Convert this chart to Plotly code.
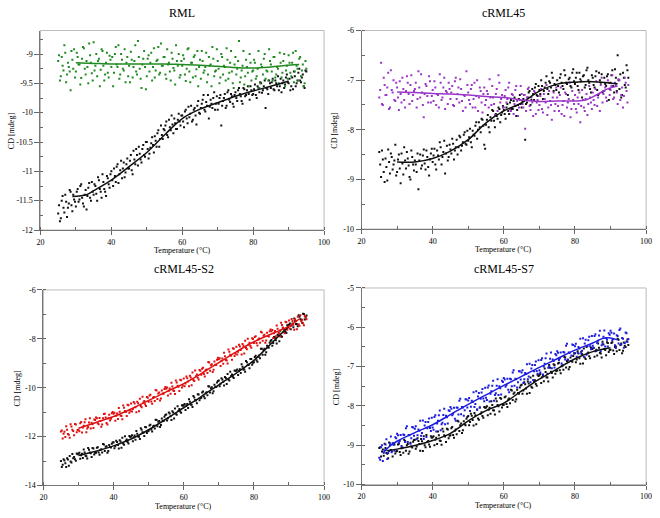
import numpy as np
import plotly.graph_objects as go

# measurement grids (two interleaved sweeps, every 0.5 degC)
temperature = np.arange(25, 95.01, 0.5)
temperature_b = np.arange(25.25, 95, 0.5)

# ---- RML ----
rml_mut = [-9.12, -9.45, -9.05, -9.28, -8.98, -9.35, -9.22, -9.62, -9.10, -8.92,
           -9.30, -9.05, -9.18, -9.41, -8.88, -9.25, -9.12, -9.50, -9.02, -9.33,
           -8.80, -9.20, -9.38, -9.08, -9.27, -8.95, -9.45, -9.15, -9.32, -9.03,
           -9.22, -9.55, -9.00, -9.18, -8.85, -9.35, -9.10, -9.28, -9.48, -9.05,
           -9.20, -8.96, -9.40, -9.12, -9.30, -8.78, -9.25, -9.58, -9.08, -9.22,
           -9.38, -9.02, -9.15, -9.45, -8.90, -9.28, -9.10, -9.35, -8.82, -9.20,
           -9.05, -9.42, -9.18, -9.30, -8.98, -9.24, -9.52, -9.12, -9.00, -9.36,
           -9.20, -9.08, -9.46, -8.92, -9.30, -9.15, -9.40, -9.02, -9.26, -9.55,
           -9.10, -8.95, -9.32, -9.22, -9.48, -9.05, -9.18, -8.88, -9.38, -9.28,
           -9.12, -9.50, -9.00, -9.35, -9.22, -8.90, -9.42, -9.15, -9.30, -9.58,
           -9.05, -9.25, -8.78, -9.40, -9.20, -9.52, -9.10, -9.32, -9.00, -9.45,
           -9.28, -9.15, -9.38, -8.95, -9.50, -9.22, -9.08, -9.42, -9.30, -8.92,
           -9.18, -9.45, -9.05, -9.35, -9.25, -8.98, -9.40, -9.12, -9.55, -9.20,
           -9.02, -9.32, -9.15, -9.48, -8.95, -9.25, -9.08, -9.38, -9.18, -9.50,
           -9.25]
rml_mut_b = [-9.02, -9.38, -9.20, -8.85, -9.48, -9.15, -9.30, -8.95, -9.25, -9.40,
             -8.98, -9.18, -9.52, -9.08, -8.90, -9.35, -9.22, -8.82, -9.15, -9.45,
             -9.28, -9.00, -9.12, -9.55, -8.92, -9.20, -9.35, -8.98, -9.40, -9.10,
             -9.05, -9.32, -8.88, -9.22, -9.42, -9.00, -9.25, -8.92, -9.15, -9.38,
             -9.48, -9.10, -9.22, -8.85, -9.35, -9.05, -9.42, -9.18, -8.95, -9.60,
             -9.08, -9.30, -8.98, -9.22, -9.40, -9.12, -8.88, -9.32, -9.20, -9.05,
             -9.35, -8.92, -9.15, -9.45, -9.08, -9.28, -8.85, -9.20, -9.40, -9.12,
             -9.02, -9.35, -9.25, -8.90, -9.48, -9.15, -9.05, -9.38, -8.95, -9.22,
             -9.42, -9.12, -9.28, -8.98, -9.35, -9.20, -9.55, -9.08, -9.30, -8.92,
             -9.25, -9.40, -9.05, -9.20, -9.45, -9.10, -9.32, -8.95, -9.50, -9.18,
             -9.35, -9.12, -9.48, -9.28, -8.95, -9.38, -9.22, -9.55, -9.15, -9.30,
             -9.10, -9.42, -9.25, -9.58, -9.18, -9.35, -9.00, -9.28, -9.45, -9.12,
             -9.30, -9.05, -9.40, -9.22, -9.50, -9.15, -9.32, -9.00, -9.28, -9.42,
             -9.15, -9.38, -8.98, -9.30, -9.20, -9.45, -9.05, -9.28, -9.55, -9.12]
rml_wt = [-11.72, -11.85, -11.50, -11.62, -11.40, -11.78, -11.55, -11.35, -11.68, -11.48,
          -11.60, -11.30, -11.48, -11.22, -11.55, -11.40, -11.65, -11.28, -11.45, -11.18,
          -11.40, -11.25, -11.50, -11.15, -11.35, -11.05, -11.30, -11.42, -11.12, -11.28,
          -11.00, -11.25, -11.08, -10.92, -11.20, -10.98, -11.12, -10.85, -11.02, -10.78,
          -10.95, -10.72, -11.05, -10.80, -10.62, -10.90, -10.70, -10.85, -10.55, -10.75,
          -10.50, -10.78, -10.60, -10.42, -10.68, -10.48, -10.35, -10.58, -10.22, -10.45,
          -10.30, -10.15, -10.42, -10.25, -10.05, -10.35, -10.18, -10.28, -10.02, -10.22,
          -10.05, -10.25, -9.95, -10.18, -10.08, -9.88, -10.12, -9.92, -10.20, -9.80,
          -10.02, -9.85, -9.70, -9.98, -9.88, -10.10, -9.78, -9.92, -9.65, -9.85,
          -9.95, -9.75, -10.22, -9.80, -9.68, -9.88, -9.62, -9.82, -9.72, -9.90,
          -9.65, -9.80, -9.58, -9.72, -9.85, -9.60, -9.70, -9.55, -9.78, -9.62,
          -9.68, -9.52, -9.75, -9.58, -9.48, -9.66, -9.55, -9.92, -9.60, -9.45,
          -9.58, -9.42, -9.62, -9.50, -9.38, -9.55, -9.65, -9.45, -9.52, -9.35,
          -9.50, -9.62, -9.40, -9.30, -9.55, -9.45, -9.25, -9.48, -9.35, -9.58,
          -9.30]
rml_wt_b = [-11.58, -11.80, -11.42, -11.70, -11.52, -11.62, -11.32, -11.58, -11.40, -11.52,
            -11.35, -11.52, -11.25, -11.45, -11.60, -11.32, -11.42, -11.20, -11.50, -11.35,
            -11.22, -11.38, -11.10, -11.30, -11.45, -11.18, -11.35, -11.08, -11.22, -11.05,
            -11.15, -10.95, -11.18, -10.88, -11.05, -10.82, -10.95, -11.10, -10.88, -10.95,
            -10.82, -10.98, -10.65, -10.88, -10.72, -10.58, -10.80, -10.62, -10.72, -10.50,
            -10.62, -10.70, -10.52, -10.55, -10.40, -10.58, -10.30, -10.45, -10.38, -10.28,
            -10.22, -10.38, -10.12, -10.30, -10.20, -10.10, -10.28, -10.12, -10.15, -10.05,
            -10.15, -9.98, -10.10, -9.90, -10.02, -10.15, -9.95, -10.05, -9.88, -10.00,
            -9.92, -9.78, -9.95, -9.82, -9.70, -9.90, -9.85, -9.75, -9.95, -9.72,
            -9.85, -9.70, -9.88, -9.75, -9.92, -9.65, -9.78, -9.68, -9.85, -9.70,
            -9.75, -9.62, -9.68, -9.80, -9.58, -9.72, -9.62, -9.68, -9.55, -9.70,
            -9.60, -9.70, -9.55, -9.65, -9.50, -9.62, -9.45, -9.58, -9.68, -9.50,
            -9.48, -9.60, -9.45, -9.55, -9.62, -9.42, -9.50, -9.58, -9.40, -9.48,
            -9.42, -9.55, -9.60, -9.38, -9.50, -9.32, -9.45, -9.40, -9.55, -9.28]
rml_mut_fit_t = [30, 35, 40, 45, 50, 55, 60, 65, 70, 75, 80, 85, 90, 93]
rml_mut_fit = [-9.15, -9.16, -9.17, -9.17, -9.17, -9.17, -9.18, -9.19, -9.21, -9.23, -9.24, -9.22, -9.19, -9.18]
rml_wt_fit_t = [29, 31, 33, 35, 40, 45, 50, 55, 60, 65, 70, 75, 80, 85, 90]
rml_wt_fit = [-11.43, -11.42, -11.40, -11.33, -11.15, -10.92, -10.68, -10.38, -10.10, -9.94, -9.83, -9.72, -9.63, -9.55, -9.46]

# ---- cRML45 ----
c45_mut = [-7.35, -6.65, -7.50, -7.10, -7.30, -6.85, -7.55, -7.20, -7.00, -7.42,
           -7.15, -7.60, -7.28, -6.95, -7.40, -7.22, -7.05, -7.48, -6.90, -7.30,
           -7.18, -7.55, -6.82, -7.35, -7.25, -7.75, -7.08, -7.32, -6.92, -7.45,
           -7.20, -7.02, -7.50, -7.30, -6.88, -7.40, -7.15, -7.58, -7.25, -7.05,
           -7.38, -7.12, -7.52, -6.95, -7.28, -7.45, -7.18, -7.62, -7.32, -6.82,
           -7.25, -7.48, -7.10, -7.38, -7.55, -7.00, -7.35, -7.22, -7.65, -7.15,
           -7.40, -7.28, -6.98, -7.50, -7.35, -7.70, -7.18, -6.90, -7.45, -7.30,
           -7.55, -7.20, -7.38, -7.05, -7.62, -7.30, -7.48, -7.12, -7.72, -7.40,
           -7.28, -7.55, -7.98, -7.35, -7.15, -7.60, -7.45, -7.22, -7.68, -7.40,
           -7.50, -7.18, -7.65, -7.38, -7.10, -7.55, -7.42, -7.80, -7.25, -7.48,
           -7.35, -7.62, -7.15, -7.50, -7.72, -7.28, -7.45, -7.05, -7.58, -7.40,
           -7.30, -7.65, -7.48, -7.85, -7.20, -7.55, -7.38, -7.70, -7.12, -7.45,
           -7.25, -7.50, -7.02, -7.35, -7.62, -6.95, -7.28, -7.15, -7.42, -7.05,
           -7.20, -6.90, -7.35, -7.10, -7.48, -7.00, -7.30, -7.55, -6.95, -7.22,
           -7.10]
c45_mut_b = [-7.20, -7.48, -6.95, -7.30, -7.15, -7.58, -6.80, -7.25, -7.40, -7.05,
             -7.35, -7.02, -7.45, -7.18, -7.55, -6.92, -7.28, -7.10, -7.42, -7.22,
             -7.05, -7.38, -7.15, -6.88, -7.50, -7.28, -7.12, -7.45, -7.02, -7.32,
             -7.42, -7.15, -7.28, -7.55, -7.05, -7.35, -6.95, -7.22, -7.48, -7.18,
             -7.25, -7.50, -7.02, -7.38, -7.15, -6.98, -7.42, -7.30, -7.55, -7.10,
             -7.40, -7.18, -7.55, -7.05, -7.32, -7.62, -7.15, -7.45, -7.28, -7.50,
             -7.22, -7.55, -7.35, -7.12, -7.48, -7.28, -7.62, -7.05, -7.38, -7.55,
             -7.32, -7.45, -7.15, -7.58, -7.28, -7.68, -7.20, -7.42, -7.55, -7.12,
             -7.48, -7.30, -7.62, -7.18, -7.52, -7.35, -7.72, -7.25, -7.45, -7.60,
             -7.32, -7.58, -7.28, -7.45, -7.70, -7.22, -7.50, -7.35, -7.62, -7.15,
             -7.52, -7.30, -7.68, -7.42, -7.25, -7.55, -7.38, -7.75, -7.22, -7.48,
             -7.58, -7.35, -7.25, -7.52, -7.40, -7.62, -7.28, -7.48, -7.35, -7.58,
             -7.40, -7.18, -7.52, -7.28, -7.10, -7.45, -7.22, -7.35, -7.00, -7.30,
             -7.12, -7.38, -7.05, -7.25, -6.98, -7.40, -7.15, -7.32, -7.05, -7.45]
c45_wt = [-8.45, -8.95, -8.60, -9.05, -8.75, -8.40, -8.88, -8.55, -8.70, -8.30,
          -8.85, -8.50, -9.08, -8.68, -8.35, -8.78, -8.58, -8.95, -8.42, -8.70,
          -8.62, -8.85, -9.20, -8.50, -8.72, -8.40, -8.80, -8.55, -8.92, -8.48,
          -8.65, -8.38, -8.80, -8.52, -8.25, -8.70, -8.45, -8.88, -8.32, -8.55,
          -8.40, -8.18, -8.60, -8.35, -8.50, -8.12, -8.42, -8.25, -8.05, -8.30,
          -8.22, -7.98, -8.35, -8.10, -7.92, -8.18, -7.85, -8.05, -7.80, -8.30,
          -7.90, -7.70, -8.05, -7.82, -7.62, -7.95, -7.72, -7.55, -7.85, -7.65,
          -7.60, -7.78, -7.48, -7.68, -7.40, -7.58, -7.35, -7.72, -7.50, -7.30,
          -7.55, -7.38, -8.20, -7.45, -7.25, -7.50, -7.18, -7.40, -7.08, -7.32,
          -7.20, -7.00, -7.38, -7.15, -6.92, -7.28, -7.05, -6.85, -7.22, -7.10,
          -7.00, -7.25, -6.88, -7.12, -6.80, -7.05, -7.30, -6.95, -7.15, -6.78,
          -7.08, -6.85, -7.20, -6.98, -7.35, -6.90, -7.10, -6.75, -7.05, -7.25,
          -6.95, -7.15, -6.82, -7.30, -7.00, -6.88, -7.22, -7.08, -6.92, -7.40,
          -7.05, -6.80, -7.25, -6.95, -6.50, -7.18, -7.35, -6.85, -7.10, -6.70,
          -6.95]
c45_wt_b = [-8.70, -8.42, -8.85, -8.58, -9.02, -8.65, -8.48, -8.80, -8.62, -8.92,
            -8.60, -8.78, -8.48, -8.90, -8.62, -8.45, -8.72, -9.00, -8.55, -8.82,
            -8.70, -8.48, -8.62, -8.78, -8.52, -8.68, -8.42, -8.75, -8.60, -8.38,
            -8.52, -8.70, -8.42, -8.60, -8.35, -8.55, -8.22, -8.48, -8.62, -8.30,
            -8.48, -8.28, -8.42, -8.20, -8.35, -8.15, -8.32, -8.10, -8.28, -8.02,
            -8.15, -8.25, -8.02, -8.12, -7.85, -8.00, -7.95, -7.78, -7.92, -8.38,
            -7.80, -7.95, -7.75, -7.60, -7.82, -7.68, -7.78, -7.58, -7.70, -7.52,
            -7.68, -7.55, -7.62, -7.45, -7.58, -7.42, -7.52, -7.60, -7.38, -7.48,
            -7.42, -7.30, -7.48, -7.35, -7.22, -7.40, -7.28, -7.15, -7.30, -7.12,
            -7.28, -7.12, -7.22, -7.05, -7.18, -7.02, -7.15, -6.95, -7.08, -7.20,
            -7.12, -6.95, -7.05, -7.18, -6.90, -7.08, -6.98, -7.12, -6.85, -7.02,
            -6.95, -7.12, -6.85, -7.02, -6.92, -7.15, -6.80, -7.00, -7.18, -6.90,
            -7.10, -6.92, -7.20, -6.85, -7.05, -7.25, -6.95, -7.12, -6.88, -7.18,
            -6.90, -7.12, -6.78, -7.22, -7.00, -6.88, -7.30, -6.95, -7.15, -6.80]
c45_mut_fit_t = [30, 35, 40, 45, 50, 55, 60, 65, 70, 75, 80, 83, 86, 89, 92]
c45_mut_fit = [-7.24, -7.25, -7.27, -7.28, -7.30, -7.33, -7.35, -7.40, -7.43, -7.42, -7.42, -7.40, -7.30, -7.18, -7.12]
c45_wt_fit_t = [30, 35, 40, 45, 50, 55, 60, 65, 70, 75, 80, 85, 90, 92]
c45_wt_fit = [-8.65, -8.65, -8.58, -8.43, -8.20, -7.86, -7.62, -7.46, -7.22, -7.08, -7.04, -7.03, -7.06, -7.07]

# ---- cRML45-S2 ----
s2_mut = [-11.79, -12.08, -11.80, -11.58, -11.89, -12.05, -11.59, -11.77, -11.48, -11.82,
          -11.72, -11.45, -11.83, -11.56, -11.29, -11.67, -11.42, -11.67, -11.49, -11.30,
          -11.22, -11.45, -11.24, -11.60, -11.25, -11.07, -11.44, -11.25, -11.34, -11.04,
          -11.07, -11.35, -11.06, -10.83, -11.14, -11.29, -10.82, -10.99, -10.70, -11.02,
          -10.65, -10.87, -10.65, -11.00, -10.64, -10.45, -10.80, -10.61, -10.68, -10.38,
          -10.57, -10.29, -10.66, -10.38, -10.09, -10.46, -10.20, -10.44, -10.24, -10.05,
          -10.04, -10.32, -10.03, -9.80, -10.11, -10.26, -9.79, -9.96, -9.67, -9.99,
          -9.62, -9.83, -9.61, -9.94, -9.58, -9.38, -9.73, -9.53, -9.59, -9.28,
          -9.47, -9.18, -9.54, -9.25, -8.95, -9.31, -9.04, -9.27, -9.06, -8.86,
          -8.84, -9.11, -8.81, -8.57, -8.87, -9.01, -8.53, -8.69, -8.39, -8.70,
          -8.32, -8.53, -8.31, -8.64, -8.28, -8.08, -8.43, -8.23, -8.29, -7.98,
          -8.17, -7.89, -8.27, -7.99, -7.71, -8.08, -7.83, -8.07, -7.88, -7.69,
          -7.69, -7.97, -7.68, -7.45, -7.75, -7.90, -7.43, -7.60, -7.30, -7.63,
          -7.25, -7.48, -7.27, -7.63, -7.28, -7.10, -7.46, -7.28, -7.36, -7.07,
          -7.20]
s2_mut_b = [-11.75, -11.88, -12.02, -11.72, -11.92, -11.49, -11.72, -11.94, -11.51, -11.73,
            -11.78, -11.40, -11.63, -11.41, -11.82, -11.61, -11.25, -11.43, -11.65, -11.32,
            -11.25, -11.49, -11.36, -11.50, -11.08, -11.22, -11.51, -11.11, -11.27, -10.99,
            -11.02, -11.15, -11.28, -10.98, -11.16, -10.73, -10.95, -11.16, -10.72, -10.94,
            -10.97, -10.58, -10.80, -10.57, -10.96, -10.75, -10.37, -10.54, -10.75, -10.41,
            -10.32, -10.56, -10.41, -10.54, -10.11, -10.24, -10.52, -10.11, -10.25, -9.97,
            -9.99, -10.12, -10.25, -9.95, -10.13, -9.70, -9.92, -10.13, -9.69, -9.91,
            -9.94, -9.54, -9.75, -9.51, -9.90, -9.68, -9.30, -9.46, -9.66, -9.31,
            -9.22, -9.44, -9.29, -9.40, -8.97, -9.08, -9.36, -8.93, -9.07, -8.77,
            -8.79, -8.91, -9.02, -8.71, -8.89, -8.44, -8.65, -8.86, -8.41, -8.61,
            -8.64, -8.24, -8.46, -8.21, -8.60, -8.38, -8.00, -8.16, -8.36, -8.01,
            -7.93, -8.17, -8.03, -8.16, -7.74, -7.87, -8.16, -7.75, -7.90, -7.62,
            -7.64, -7.77, -7.89, -7.59, -7.77, -7.34, -7.55, -7.77, -7.32, -7.54,
            -7.58, -7.19, -7.42, -7.20, -7.61, -7.40, -7.04, -7.22, -7.44, -7.10]
s2_wt = [-13.00, -13.15, -12.98, -13.24, -12.94, -12.79, -13.06, -12.89, -12.93, -12.69,
         -12.70, -12.91, -12.70, -12.53, -12.78, -12.90, -12.54, -12.68, -12.47, -12.73,
         -12.66, -12.44, -12.74, -12.52, -12.30, -12.59, -12.40, -12.59, -12.43, -12.29,
         -12.23, -12.39, -12.22, -12.49, -12.20, -12.05, -12.33, -12.17, -12.22, -11.98,
         -12.00, -12.19, -11.96, -11.77, -12.00, -12.10, -11.72, -11.84, -11.61, -11.85,
         -11.76, -11.52, -11.79, -11.56, -11.31, -11.58, -11.36, -11.53, -11.35, -11.19,
         -11.10, -11.25, -11.06, -11.32, -11.01, -10.85, -11.11, -10.94, -10.97, -10.72,
         -10.72, -10.91, -10.67, -10.47, -10.69, -10.79, -10.40, -10.52, -10.27, -10.51,
         -10.41, -10.16, -10.43, -10.19, -9.94, -10.20, -9.98, -10.14, -9.96, -9.79,
         -9.70, -9.84, -9.66, -9.91, -9.60, -9.44, -9.70, -9.52, -9.55, -9.30,
         -9.30, -9.48, -9.24, -9.04, -9.26, -9.35, -8.96, -9.07, -8.83, -9.06,
         -8.96, -8.69, -8.94, -8.68, -8.41, -8.65, -8.41, -8.55, -8.35, -8.16,
         -8.05, -8.17, -7.96, -8.19, -7.86, -7.67, -7.91, -7.71, -7.72, -7.44,
         -7.42, -7.61, -7.37, -7.17, -7.39, -7.49, -7.10, -7.22, -6.97, -7.21,
         -7.05]
s2_wt_b = [-13.24, -12.93, -13.09, -12.89, -13.19, -13.02, -12.71, -12.83, -12.99, -12.72,
           -12.66, -12.76, -12.88, -12.65, -12.80, -12.47, -12.65, -12.83, -12.49, -12.67,
           -12.46, -12.65, -12.55, -12.65, -12.32, -12.42, -12.66, -12.34, -12.45, -12.24,
           -12.48, -12.17, -12.34, -12.15, -12.46, -12.29, -11.99, -12.12, -12.28, -12.02,
           -11.95, -12.03, -12.13, -11.88, -12.01, -11.66, -11.82, -11.98, -11.62, -11.78,
           -11.55, -11.71, -11.59, -11.67, -11.32, -11.39, -11.61, -11.26, -11.36, -11.12,
           -11.34, -11.01, -11.17, -10.96, -11.26, -11.07, -10.76, -10.87, -11.02, -10.74,
           -10.67, -10.74, -10.83, -10.57, -10.70, -10.34, -10.50, -10.64, -10.28, -10.43,
           -10.20, -10.36, -10.23, -10.31, -9.95, -10.02, -10.23, -9.88, -9.97, -9.73,
           -9.94, -9.61, -9.76, -9.56, -9.85, -9.66, -9.35, -9.46, -9.60, -9.32,
           -9.25, -9.32, -9.40, -9.14, -9.26, -8.91, -9.06, -9.20, -8.83, -8.98,
           -8.74, -8.88, -8.73, -8.79, -8.41, -8.46, -8.65, -8.28, -8.35, -8.09,
           -8.28, -7.93, -8.06, -7.83, -8.10, -7.89, -7.55, -7.64, -7.76, -7.46,
           -7.37, -7.44, -7.53, -7.27, -7.40, -7.04, -7.20, -7.34, -6.98, -7.13]
s2_mut_fit_t = [30, 35, 40, 45, 50, 55, 60, 65, 70, 75, 80, 85, 90, 93]
s2_mut_fit = [-11.66, -11.42, -11.18, -10.87, -10.52, -10.17, -9.83, -9.42, -8.97, -8.53, -8.12, -7.80, -7.48, -7.18]
s2_wt_fit_t = [30, 35, 40, 45, 50, 55, 60, 65, 70, 75, 80, 85, 90]
s2_wt_fit = [-12.77, -12.60, -12.38, -12.10, -11.72, -11.28, -10.82, -10.36, -9.88, -9.40, -8.88, -8.18, -7.48]

# ---- cRML45-S7 ----
s7_mut = [-9.32, -9.05, -9.40, -9.13, -8.85, -9.20, -8.95, -9.18, -8.99, -8.80,
          -8.71, -8.93, -8.74, -9.07, -8.74, -8.57, -8.92, -8.75, -8.82, -8.55,
          -8.58, -8.85, -8.60, -8.38, -8.69, -8.84, -8.41, -8.57, -8.32, -8.64,
          -8.55, -8.28, -8.65, -8.38, -8.12, -8.47, -8.23, -8.47, -8.29, -8.11,
          -8.03, -8.24, -8.05, -8.38, -8.05, -7.87, -8.21, -8.04, -8.11, -7.84,
          -7.86, -8.13, -7.87, -7.65, -7.95, -8.10, -7.67, -7.82, -7.57, -7.88,
          -7.79, -7.53, -7.89, -7.63, -7.36, -7.72, -7.49, -7.72, -7.55, -7.36,
          -7.29, -7.51, -7.31, -7.65, -7.32, -7.15, -7.49, -7.32, -7.40, -7.12,
          -7.15, -7.42, -7.16, -6.94, -7.25, -7.40, -6.96, -7.12, -6.87, -7.18,
          -7.09, -6.83, -7.20, -6.93, -6.67, -7.03, -6.80, -7.04, -6.86, -6.68,
          -6.61, -6.83, -6.64, -6.97, -6.64, -6.47, -6.82, -6.65, -6.72, -6.45,
          -6.48, -6.75, -6.50, -6.29, -6.60, -6.75, -6.32, -6.48, -6.24, -6.56,
          -6.47, -6.22, -6.60, -6.34, -6.09, -6.46, -6.24, -6.49, -6.32, -6.15,
          -6.09, -6.33, -6.16, -6.53, -6.22, -6.07, -6.44, -6.29, -6.40, -6.15,
          -6.30]
s7_mut_b = [-9.37, -9.00, -9.19, -8.98, -9.35, -9.15, -8.78, -8.95, -9.14, -8.82,
            -8.75, -8.89, -9.02, -8.73, -8.92, -8.52, -8.74, -8.96, -8.54, -8.76,
            -8.52, -8.75, -8.63, -8.76, -8.37, -8.50, -8.79, -8.41, -8.56, -8.30,
            -8.61, -8.24, -8.45, -8.24, -8.62, -8.43, -8.07, -8.25, -8.45, -8.13,
            -8.07, -8.20, -8.33, -8.04, -8.22, -7.82, -8.03, -8.25, -7.83, -8.04,
            -7.80, -8.02, -7.90, -8.03, -7.63, -7.76, -8.04, -7.66, -7.81, -7.54,
            -7.85, -7.48, -7.69, -7.49, -7.87, -7.68, -7.32, -7.50, -7.71, -7.39,
            -7.33, -7.47, -7.59, -7.31, -7.50, -7.09, -7.31, -7.53, -7.12, -7.33,
            -7.09, -7.32, -7.19, -7.32, -6.93, -7.05, -7.34, -6.96, -7.11, -6.84,
            -7.15, -6.79, -7.00, -6.79, -7.18, -6.99, -6.64, -6.82, -7.02, -6.71,
            -6.65, -6.79, -6.92, -6.63, -6.82, -6.42, -6.64, -6.86, -6.44, -6.66,
            -6.42, -6.65, -6.54, -6.67, -6.28, -6.41, -6.70, -6.33, -6.48, -6.22,
            -6.53, -6.18, -6.40, -6.21, -6.61, -6.42, -6.08, -6.27, -6.49, -6.19,
            -6.14, -6.30, -6.46, -6.20, -6.41, -6.03, -6.27, -6.52, -6.13, -6.37]
s7_wt = [-9.07, -9.29, -9.11, -8.96, -9.20, -9.33, -9.00, -9.15, -8.95, -9.21,
         -9.15, -8.96, -9.25, -9.06, -8.86, -9.14, -8.97, -9.16, -9.03, -8.91,
         -8.86, -9.03, -8.89, -9.14, -8.90, -8.77, -9.05, -8.92, -8.98, -8.77,
         -8.80, -9.00, -8.81, -8.65, -8.88, -8.99, -8.65, -8.78, -8.58, -8.82,
         -8.75, -8.54, -8.81, -8.60, -8.38, -8.64, -8.45, -8.62, -8.47, -8.33,
         -8.26, -8.41, -8.25, -8.50, -8.24, -8.09, -8.35, -8.20, -8.26, -8.03,
         -8.04, -8.24, -8.05, -7.88, -8.11, -8.22, -7.88, -8.01, -7.80, -8.04,
         -7.97, -7.76, -8.03, -7.81, -7.59, -7.85, -7.66, -7.83, -7.67, -7.53,
         -7.46, -7.61, -7.45, -7.69, -7.43, -7.28, -7.54, -7.39, -7.44, -7.21,
         -7.22, -7.42, -7.22, -7.05, -7.27, -7.38, -7.03, -7.16, -6.94, -7.18,
         -7.10, -6.90, -7.17, -6.97, -6.75, -7.02, -6.83, -7.01, -6.86, -6.73,
         -6.66, -6.82, -6.67, -6.93, -6.68, -6.54, -6.81, -6.67, -6.74, -6.52,
         -6.54, -6.75, -6.57, -6.41, -6.65, -6.77, -6.44, -6.58, -6.38, -6.63,
         -6.57, -6.38, -6.68, -6.49, -6.29, -6.58, -6.41, -6.60, -6.47, -6.36,
         -6.45]
s7_wt_b = [-9.05, -9.16, -9.27, -9.07, -9.22, -8.93, -9.12, -9.29, -8.98, -9.16,
           -8.98, -9.17, -9.08, -9.19, -8.89, -9.00, -9.22, -8.94, -9.06, -8.87,
           -9.09, -8.82, -8.97, -8.84, -9.15, -9.00, -8.74, -8.89, -9.04, -8.81,
           -8.77, -8.86, -8.97, -8.75, -8.89, -8.58, -8.75, -8.92, -8.60, -8.76,
           -8.57, -8.74, -8.63, -8.72, -8.40, -8.49, -8.69, -8.39, -8.49, -8.28,
           -8.49, -8.20, -8.36, -8.18, -8.47, -8.32, -8.04, -8.16, -8.30, -8.05,
           -8.01, -8.10, -8.20, -7.98, -8.12, -7.81, -7.98, -8.14, -7.82, -7.98,
           -7.78, -7.95, -7.84, -7.93, -7.61, -7.69, -7.89, -7.59, -7.69, -7.48,
           -7.69, -7.40, -7.56, -7.38, -7.67, -7.51, -7.23, -7.35, -7.49, -7.24,
           -7.19, -7.27, -7.37, -7.14, -7.28, -6.96, -7.13, -7.28, -6.96, -7.11,
           -6.92, -7.09, -6.99, -7.08, -6.77, -6.86, -7.07, -6.77, -6.88, -6.67,
           -6.89, -6.61, -6.79, -6.62, -6.92, -6.77, -6.50, -6.64, -6.79, -6.55,
           -6.52, -6.61, -6.72, -6.52, -6.67, -6.37, -6.55, -6.71, -6.40, -6.58,
           -6.40, -6.59, -6.50, -6.61, -6.32, -6.45, -6.66, -6.39, -6.50, -6.31]
s7_mut_fit_t = [26, 28, 30, 35, 40, 45, 50, 55, 60, 65, 70, 75, 80, 85, 88, 90, 92]
s7_mut_fit = [-9.20, -9.02, -8.90, -8.68, -8.48, -8.22, -7.96, -7.72, -7.48, -7.25, -7.02, -6.80, -6.58, -6.40, -6.28, -6.27, -6.32]
s7_wt_fit_t = [27, 30, 35, 40, 45, 50, 55, 60, 65, 70, 75, 80, 85, 90]
s7_wt_fit = [-9.14, -9.10, -9.01, -8.88, -8.70, -8.38, -8.12, -7.93, -7.62, -7.32, -7.06, -6.80, -6.62, -6.52]

titles = ["RML", "cRML45", "cRML45-S2", "cRML45-S7"]
x_ticks = [20, 40, 60, 80, 100]
x_tick_text = ["20", "40", "60", "80", "100"]
y_ticks = [
    [-12, -11.5, -11, -10.5, -10, -9.5, -9],
    [-10, -9, -8, -7, -6],
    [-14, -12, -10, -8, -6],
    [-10, -9, -8, -7, -6, -5],
]
y_tick_text = [
    ["-12", "-11.5", "-11", "-10.5", "-10", "-9.5", "-9"],
    ["-10", "-9", "-8", "-7", "-6"],
    ["-14", "-12", "-10", "-8", "-6"],
    ["-10", "-9", "-8", "-7", "-6", "-5"],
]
y_ranges = [[-12, -8.6], [-10, -6], [-14, -6], [-10, -5]]
y_minor = [0.25, 0.5, 1, 0.5]

panels = [
    (rml_mut, rml_mut_b, rml_wt, rml_wt_b, rml_mut_fit_t, rml_mut_fit, rml_wt_fit_t, rml_wt_fit, "#1f8a1f"),
    (c45_mut, c45_mut_b, c45_wt, c45_wt_b, c45_mut_fit_t, c45_mut_fit, c45_wt_fit_t, c45_wt_fit, "#9a35c8"),
    (s2_mut, s2_mut_b, s2_wt, s2_wt_b, s2_mut_fit_t, s2_mut_fit, s2_wt_fit_t, s2_wt_fit, "#e01010"),
    (s7_mut, s7_mut_b, s7_wt, s7_wt_b, s7_mut_fit_t, s7_mut_fit, s7_wt_fit_t, s7_wt_fit, "#1c1ce0"),
]

W, H = 660, 518
# plot areas in pixels: (left, right, top, bottom)
boxes = [(37, 325, 27, 230), (363, 652, 27, 229), (40, 325, 291, 490), (363, 652, 289, 489)]

FONT = "Liberation Serif, Times New Roman, serif"
fig = go.Figure()
layout = dict(width=W, height=H, margin=dict(l=0, r=0, t=0, b=0),
              paper_bgcolor="white", plot_bgcolor="white", showlegend=False,
              font=dict(family=FONT, size=8, color="#000"))
annotations = []
shapes = []
t_all = np.concatenate([temperature, temperature_b])
for i, (mut, mut_b, wt, wt_b, mft, mf, wft, wf, col) in enumerate(panels):
    ax = "" if i == 0 else str(i + 1)
    xa, ya = "x" + ax, "y" + ax
    L, R, T, B = boxes[i]
    fig.add_trace(go.Scatter(x=t_all, y=list(wt) + list(wt_b), mode="markers", xaxis=xa, yaxis=ya,
                             marker=dict(symbol="square", size=2, color="#111", line=dict(width=0))))
    fig.add_trace(go.Scatter(x=t_all, y=list(mut) + list(mut_b), mode="markers", xaxis=xa, yaxis=ya,
                             marker=dict(symbol="square", size=2, color=col, line=dict(width=0))))
    fig.add_trace(go.Scatter(x=wft, y=wf, mode="lines", xaxis=xa, yaxis=ya,
                             line=dict(color="#111", width=1.5, shape="spline")))
    fig.add_trace(go.Scatter(x=mft, y=mf, mode="lines", xaxis=xa, yaxis=ya,
                             line=dict(color=col, width=1.5, shape="spline")))
    layout["xaxis" + ax] = dict(domain=[L / W, R / W], anchor=ya, range=[20, 100],
                                tickvals=x_ticks, ticktext=x_tick_text, ticklabeloverflow="allow",
                                ticks="outside", ticklen=4, tickcolor="#666",
                                minor=dict(dtick=10, tick0=0, ticks="inside", ticklen=3, tickcolor="#666"),
                                showgrid=False, zeroline=False, showline=True, linecolor="#777",
                                linewidth=1, tickfont=dict(size=8, family=FONT, color="#000"))
    layout["yaxis" + ax] = dict(domain=[1 - B / H, 1 - T / H], anchor=xa, range=y_ranges[i],
                                tickvals=y_ticks[i], ticktext=y_tick_text[i],
                                ticks="outside", ticklen=5, tickcolor="#666",
                                minor=dict(dtick=y_minor[i], ticks="inside", ticklen=3, tickcolor="#666"),
                                showgrid=False, zeroline=False, showline=True, linecolor="#777",
                                linewidth=1, tickfont=dict(size=8, family=FONT, color="#000"))
    shapes.append(dict(type="rect", xref="paper", yref="paper", x0=L / W, x1=R / W,
                       y0=1 - B / H, y1=1 - T / H, line=dict(color="#bbb", width=1), layer="below"))
    cx = (L + R) / 2
    top_title = 9 if i < 2 else 270
    annotations.append(dict(text=titles[i], x=cx / W, y=1 - top_title / H, xref="paper", yref="paper",
                            showarrow=False, font=dict(family=FONT, size=12, color="#000"),
                            xanchor="center", yanchor="middle"))
    annotations.append(dict(text="Temperature (°C)", x=cx / W, y=1 - (B + 21) / H, xref="paper",
                            yref="paper", showarrow=False, font=dict(family=FONT, size=8, color="#000"),
                            xanchor="center", yanchor="middle"))
    ylab_x = [7, 336, 14, 337][i]
    annotations.append(dict(text="CD [mdeg]", x=ylab_x / W, y=1 - ((T + B) / 2) / H, xref="paper",
                            yref="paper", showarrow=False, textangle=-90,
                            font=dict(family=FONT, size=8, color="#000"),
                            xanchor="center", yanchor="middle"))

layout["annotations"] = annotations
layout["shapes"] = shapes
fig.update_layout(**layout)
fig.write_html("out.html", config={"displayModeBar": False},
               post_script="document.body.style.margin='0px';")
